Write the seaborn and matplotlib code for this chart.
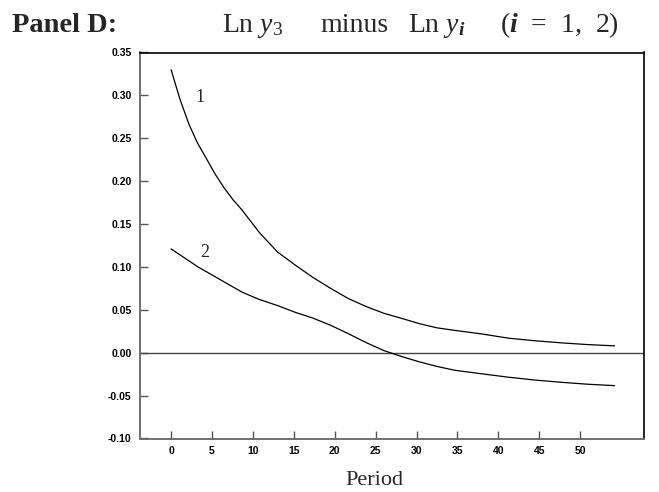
import matplotlib
matplotlib.use("Agg")
import matplotlib.pyplot as plt
import seaborn as sns
import pandas as pd

# ---- data (x in tick units of the Period axis) ----
period = [0, 1.1, 2.2, 3.2, 4.3, 5.4, 6.5, 7.6, 8.7, 10.8, 13.0, 15.2, 17.3,
          19.5, 21.7, 23.8, 26.0, 28.2, 30.3, 32.5, 34.7, 37.9, 41.2, 44.4,
          47.7, 50.9, 54.2]
series_1 = [0.330, 0.295, 0.266, 0.245, 0.2265, 0.208, 0.192, 0.178, 0.166,
            0.140, 0.1175, 0.102, 0.088, 0.075, 0.063, 0.054, 0.046, 0.040,
            0.034, 0.029, 0.026, 0.022, 0.017, 0.014, 0.0115, 0.0095, 0.008]
series_2 = [0.121, 0.114, 0.107, 0.1005, 0.0945, 0.0885, 0.0825, 0.0765,
            0.0705, 0.062, 0.055, 0.047, 0.0405, 0.032, 0.022, 0.012, 0.0025,
            -0.0045, -0.0105, -0.016, -0.0205, -0.0245, -0.0285, -0.0318,
            -0.0345, -0.0367, -0.0384]
series_names = ["1", "2"]
x_ticks = [0, 5, 10, 15, 20, 25, 30, 35, 40, 45, 50]
y_ticks = [-0.10, -0.05, 0.00, 0.05, 0.10, 0.15, 0.20, 0.25, 0.30, 0.35]
y_tick_labels = ["-0.10", "-0.05", "0.00", "0.05", "0.10", "0.15", "0.20",
                 "0.25", "0.30", "0.35"]

sns.set_theme(style="ticks")
plt.rcParams.update({
    "font.family": ["Liberation Serif", "DejaVu Serif"],
    "mathtext.fontset": "custom",
    "mathtext.rm": "Liberation Serif",
    "mathtext.it": "Liberation Serif:italic",
    "mathtext.bf": "Liberation Serif:bold",
    "mathtext.bfit": "Liberation Serif:italic:bold",
})

n = len(period)
df = pd.DataFrame({
    "Period": period * 2,
    "value": series_1 + series_2,
    "series": [series_names[0]] * n + [series_names[1]] * n,
})

fig = plt.figure(figsize=(6.59, 4.92), dpi=100)
ax = fig.add_axes([140 / 659, 1 - 438.5 / 492, 504 / 659, 386 / 492])

ax.axhline(0, color="#444444", lw=1.0, zorder=1)
sns.lineplot(data=df, x="Period", y="value", hue="series",
             palette=["black", "black"], linewidth=0.9, legend=False,
             ax=ax, sort=False, zorder=2)

ax.set_xlim(-3.8, 57.8)
ax.set_ylim(-0.10, 0.35)
ax.set_xticks(x_ticks)
ax.set_xticklabels([str(t) for t in x_ticks])
ax.set_yticks(y_ticks)
ax.set_yticklabels(y_tick_labels)

for lab in ax.get_xticklabels() + ax.get_yticklabels():
    lab.set_fontfamily("Liberation Sans")
    lab.set_fontweight("bold")
    lab.set_fontsize(7.5)
    lab.set_color("black")

ax.tick_params(axis="both", direction="in", length=5.5, width=1.0,
               color="#555555")
ax.tick_params(axis="y", pad=6)
ax.tick_params(axis="x", pad=5.5)

for side in ["left", "bottom"]:
    ax.spines[side].set_color("#666666")
    ax.spines[side].set_linewidth(1.3)
for side in ["top", "right"]:
    ax.spines[side].set_color("black")
    ax.spines[side].set_linewidth(1.2)

ax.set_ylabel("")
ax.set_xlabel("Period", fontsize=16, fontfamily="Liberation Serif")
ax.xaxis.set_label_coords(0.466, -0.085)

ax.text(3.55, 0.297, series_names[0], ha="center", va="center", fontsize=13,
        fontfamily="Liberation Serif")
ax.text(4.16, 0.1166, series_names[1], ha="center", va="center", fontsize=13,
        fontfamily="Liberation Serif")

base_y = 1 - 32 / 492
fig.text(12 / 659, base_y, "Panel D:", fontsize=20.5,
         fontweight="bold", fontfamily="Liberation Serif",
         ha="left", va="baseline")
title_parts = [(222, r"Ln $y_3$"), (320, "minus"),
               (408, r"Ln $y_{\mathbfit{i}}$"),
               (500, r"($\mathbfit{i}$  =  1,  2)")]
for px, txt in title_parts:
    fig.text(px / 659, base_y, txt, fontsize=20,
             fontfamily="Liberation Serif", ha="left", va="baseline")

fig.savefig("out.png", dpi=100)
